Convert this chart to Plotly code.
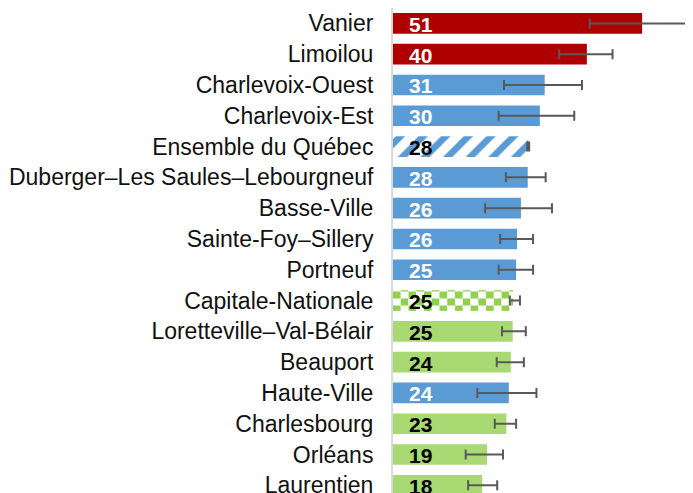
import plotly.graph_objects as go

# ---------------------------------------------------------------------------
# Données
# ---------------------------------------------------------------------------
territoires = [
    "Vanier", "Limoilou", "Charlevoix-Ouest", "Charlevoix-Est",
    "Ensemble du Québec", "Duberger–Les Saules–Lebourgneuf", "Basse-Ville",
    "Sainte-Foy–Sillery", "Portneuf", "Capitale-Nationale",
    "Loretteville–Val-Bélair", "Beauport", "Haute-Ville", "Charlesbourg",
    "Orléans", "Laurentien",
]
valeurs = [51.4, 40.0, 31.3, 30.3, 27.9, 27.8, 26.4, 25.6, 25.4, 24.8,
           24.7, 24.3, 23.9, 23.4, 19.4, 18.4]
ic_bas = [40.6, 34.3, 22.9, 21.8, 27.7, 23.3, 19.0, 22.1, 21.8, 24.1,
          22.5, 21.4, 17.4, 21.0, 15.0, 15.5]
ic_haut = [61.7, 45.3, 39.0, 37.4, 28.1, 31.5, 32.8, 28.9, 28.9, 26.2,
           27.4, 27.0, 29.6, 25.4, 22.7, 21.5]
# catégorie de comparaison: "plus" (rouge), "idem" (bleu), "moins" (vert),
# "quebec" (hachuré), "region" (damier)
statut = ["plus", "plus", "idem", "idem", "quebec", "idem", "idem", "idem",
          "idem", "region", "moins", "moins", "idem", "moins", "moins", "moins"]

ROUGE = "#AE0000"
BLEU = "#5B9BD5"
VERT = "#A9D972"
VERT_DAMIER = "#92D050"
BLANC = "#FFFFFF"
TRANSP = "rgba(0,0,0,0)"
POLICE = "Liberation Sans, Arial, sans-serif"

couleur = {"plus": ROUGE, "idem": BLEU, "moins": VERT, "quebec": BLEU, "region": TRANSP}
couleur_texte = {"plus": "white", "idem": "white", "moins": "black",
                 "quebec": "black", "region": "black"}

bar_colors = [couleur[s] for s in statut]
pat_shape = ["/" if s == "quebec" else "" for s in statut]
pat_fg = [BLEU if s == "quebec" else c for s, c in zip(statut, bar_colors)]
pat_bg = [BLANC if s == "quebec" else c for s, c in zip(statut, bar_colors)]

err_plus = [h - v for h, v in zip(ic_haut, valeurs)]
err_minus = [v - b for v, b in zip(valeurs, ic_bas)]

fig = go.Figure()

# Barre en damier (Capitale-Nationale): colonnes alternées de bandes horizontales
idx_reg = statut.index("region")
v_reg = valeurs[idx_reg]
pas = 1.6  # largeur d'une case du damier, en unités de l'axe
bases, largeurs, fg, bg = [], [], [], []
b = 0.0
j = 0
while b < v_reg - 1e-9:
    w = min(pas, v_reg - b)
    bases.append(b)
    largeurs.append(w)
    fg.append(VERT_DAMIER if j % 2 == 0 else BLANC)
    bg.append(BLANC if j % 2 == 0 else VERT_DAMIER)
    b += w
    j += 1

fig.add_trace(go.Bar(
    y=[territoires[idx_reg]] * len(largeurs), x=largeurs, base=bases,
    orientation="h", showlegend=False, hoverinfo="skip",
    marker=dict(color=BLANC, line=dict(width=0),
                pattern=dict(shape="-", fgcolor=fg, bgcolor=bg,
                             size=14, solidity=0.5, fillmode="replace")),
))

fig.add_trace(go.Bar(
    y=territoires, x=valeurs, orientation="h", showlegend=False,
    marker=dict(color=bar_colors, line=dict(width=0),
                pattern=dict(shape=pat_shape, fgcolor=pat_fg, bgcolor=pat_bg,
                             size=16, solidity=0.42, fillmode="replace")),
    error_x=dict(type="data", symmetric=False, array=err_plus,
                 arrayminus=err_minus, color="#595959", thickness=2, width=5),
))

for t, v, s in zip(territoires, valeurs, statut):
    fig.add_annotation(
        x=0, y=t, text=f"<b>{v:.0f}</b>", showarrow=False,
        xanchor="left", xshift=14, yshift=-1,
        font=dict(family=POLICE, size=21, color=couleur_texte[s]),
    )

# la page ajoute une marge de 8 px en haut et à gauche
fig.update_layout(
    width=693, height=493,
    paper_bgcolor="white", plot_bgcolor="white",
    margin=dict(l=385, r=8, t=0, b=8),
    barmode="overlay", bargap=0.33,
    font=dict(family=POLICE, size=23, color="#111111"),
    xaxis=dict(range=[0, 61.9], visible=False, fixedrange=True),
    yaxis=dict(categoryorder="array", categoryarray=territoires,
               range=[15.25, -0.5], showgrid=False, zeroline=False,
               showline=True, linecolor="#D9D9D9", linewidth=2,
               ticks="", ticklabelstandoff=13, automargin=False,
               fixedrange=True),
)

fig.write_html("out.html")
